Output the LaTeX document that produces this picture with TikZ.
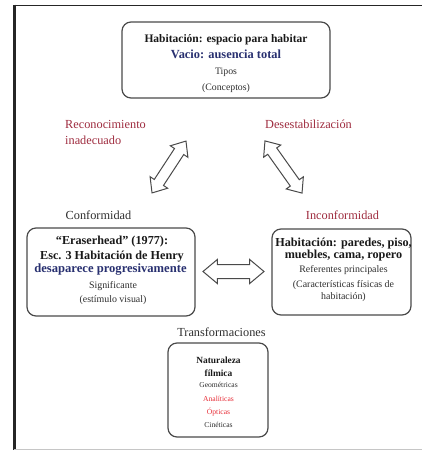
\documentclass[tikz,border=0pt]{standalone}
\usepackage{fontspec}
\setmainfont{Liberation Serif}
\usetikzlibrary{shapes.arrows,calc}

\definecolor{labelred}{HTML}{9E2B3E}
\definecolor{navy}{HTML}{283070}
\definecolor{brightred}{HTML}{E8303A}
\definecolor{boxgray}{HTML}{4A4A4A}
\definecolor{framecol}{HTML}{262626}
\definecolor{textgray}{HTML}{2E2E2E}

% font size helper: size in pt, tight baseline
\newcommand\setfs[1]{\fontsize{#1}{#1}\selectfont}

\begin{document}
\begin{tikzpicture}[x=1pt,y=-1pt,
  box/.style={draw=boxgray, line width=1.2pt, rounded corners=9pt, fill=white, inner sep=0pt},
  btxt/.style={anchor=base, inner sep=0pt, text=black!90, font=\bfseries\setfs{12.2}},
  rtxt/.style={anchor=base, inner sep=0pt, text=textgray, font=\setfs{9.9}},
  lbl/.style={anchor=base, inner sep=0pt, font=\setfs{12.3}},
  % hollow block arrow: shaft width = 2 * inner ysep, head = shaft + 2 * extend
  blockarrow/.style={double arrow, draw=boxgray, fill=white, line width=1pt,
    inner xsep=0pt, double arrow tip angle=80, double arrow head extend=5pt}
]
\useasboundingbox (0,0) rectangle (422,450);

% page frame
\coordinate (fTL) at (14.3,5.4);
\coordinate (fTR) at (422,5.4);
\coordinate (fBL) at (14.3,450);
\coordinate (gBL) at (14,449.3);
\coordinate (gBR) at (422,449.3);
\draw[framecol, line width=1.6pt] (fTL) -- (fTR);
\draw[framecol, line width=2.6pt] ($(fTL)+(0,-0.8)$) -- (fBL);
\draw[gray!45, line width=0.9pt] (gBL) -- (gBR);

% boxes
\node[box, minimum width=208pt, minimum height=76pt] (top) at (226,60) {};
\node[box, minimum width=168pt, minimum height=88pt] (left) at (111,272) {};
\node[box, minimum width=139pt, minimum height=86pt] (right) at (341.5,272) {};
\node[box, minimum width=100pt, minimum height=94pt] (bottom) at (218,390) {};

% top box text
\node[btxt, font=\bfseries\setfs{11.5}] (t1) at (226,42) {Habitación: espacio para habitar};
\node[btxt, text=navy, font=\bfseries\setfs{12.4}] (t2) at (226,58) {Vacio: ausencia total};
\node[rtxt, font=\setfs{9.8}] (t3) at (226,74.5) {Tipos};
\node[rtxt, font=\setfs{9.8}] (t4) at (226,90.5) {(Conceptos)};

% left box text
\node[btxt] (l1) at (112,244) {“Eraserhead” (1977):};
\node[btxt] (l2) at (112,259.5) {Esc. 3 Habitación de Henry};
\node[btxt, text=navy, font=\bfseries\setfs{12.6}] (l3) at (110.5,272.5) {desaparece progresivamente};
\node[rtxt] (l4) at (113,288.5) {Significante};
\node[rtxt] (l5) at (113,302.5) {(estímulo visual)};

% right box text
\node[btxt] (r1) at (343.5,246) {Habitación: paredes, piso,};
\node[btxt] (r2) at (343.5,258) {muebles, cama, ropero};
\node[rtxt] (r3) at (343.5,272.5) {Referentes principales};
\node[rtxt] (r4) at (343.5,287.5) {(Características físicas de};
\node[rtxt] (r5) at (343.5,299) {habitación)};

% bottom box text
\node[btxt, font=\bfseries\setfs{9.4}] (b1) at (218.5,363) {Naturaleza};
\node[btxt, font=\bfseries\setfs{9.4}] (b2) at (218.5,376) {fílmica};
\node[rtxt, font=\setfs{7.6}] (b3) at (218.5,387.5) {Geométricas};
\node[rtxt, font=\setfs{7.6}, text=brightred] (b4) at (218.5,401.5) {Analíticas};
\node[rtxt, font=\setfs{7.6}, text=brightred] (b5) at (218.5,414.5) {Ópticas};
\node[rtxt, font=\setfs{7.6}] (b6) at (218.5,427.5) {Cinéticas};

% labels
\node[lbl, anchor=base west, text=labelred] (recon) at (65,128) {Reconocimiento};
\node[lbl, anchor=base west, text=labelred] (inad) at (65,144) {inadecuado};
\node[lbl, text=labelred] (desest) at (308.5,128) {Desestabilización};
\node[lbl, text=textgray] (conf) at (98.5,219) {Conformidad};
\node[lbl, text=labelred] (inconf) at (342.5,219) {Inconformidad};
\node[lbl, text=textgray] (transf) at (221.5,336) {Transformaciones};

% block arrows between the boxes
\coordinate (aL1) at (152,193);
\coordinate (aL2) at (186,141);
\coordinate (aR1) at (265,141);
\coordinate (aR2) at (302,193);
\coordinate (aH1) at (203,271.5);
\coordinate (aH2) at (264,271.5);
\node[blockarrow, minimum height=62pt, inner ysep=5pt, rotate=56.8] (arrL) at ($(aL1)!.5!(aL2)$) {};
\node[blockarrow, minimum height=64pt, inner ysep=5pt, rotate=-54.6] (arrR) at ($(aR1)!.5!(aR2)$) {};
\node[blockarrow, minimum height=61pt, inner ysep=6.5pt] (arrH) at ($(aH1)!.5!(aH2)$) {};
\end{tikzpicture}
\end{document}
